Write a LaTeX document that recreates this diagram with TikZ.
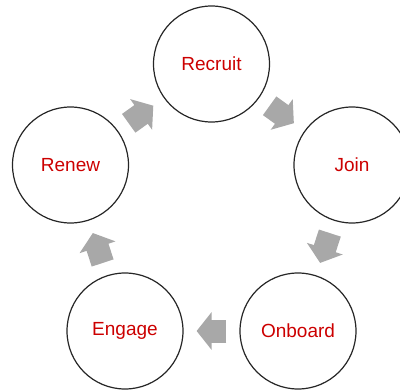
\documentclass[tikz,border=0pt]{standalone}
\usepackage{fontspec}
\setmainfont{Liberation Sans}
\usepackage{xcolor}
\usetikzlibrary{arrows.meta, calc}
\definecolor{stagered}{RGB}{204,0,0}
\definecolor{cyclegray}{RGB}{168,168,168}
\tikzstyle{stage} = [circle, minimum size=116pt, inner sep=0pt, draw=black!85, line width=1.2pt, text=stagered, font=\fontsize{19pt}{23pt}\selectfont]
\tikzstyle{cycle} = [draw=cyclegray, line width=23pt, shorten <=13pt, shorten >=13pt, -{Triangle[width=37pt, length=15pt]}]

\begin{document}
\begin{tikzpicture}[x=1pt, y=-1pt]
                    \useasboundingbox (0,0) rectangle (400,391);
                    \node (recruit) [stage] at (211.5,64) {Recruit};
                    \node (join) [stage] at (352,165) {Join};
                    \node (onboard) [stage] at (298,331) {Onboard};
                    \node (engage) [stage] at (125,331) {Engage};
                    \node (renew) [stage] at (70.5,165) {Renew};

                    \draw [cycle] (recruit) -- (join);
                    \draw [cycle] (join) -- (onboard);
                    \draw [cycle] (onboard) -- (engage);
                    \draw [cycle] (engage) -- (renew);
                    \draw [cycle] (renew) -- (recruit);
                \end{tikzpicture}
\end{document}
